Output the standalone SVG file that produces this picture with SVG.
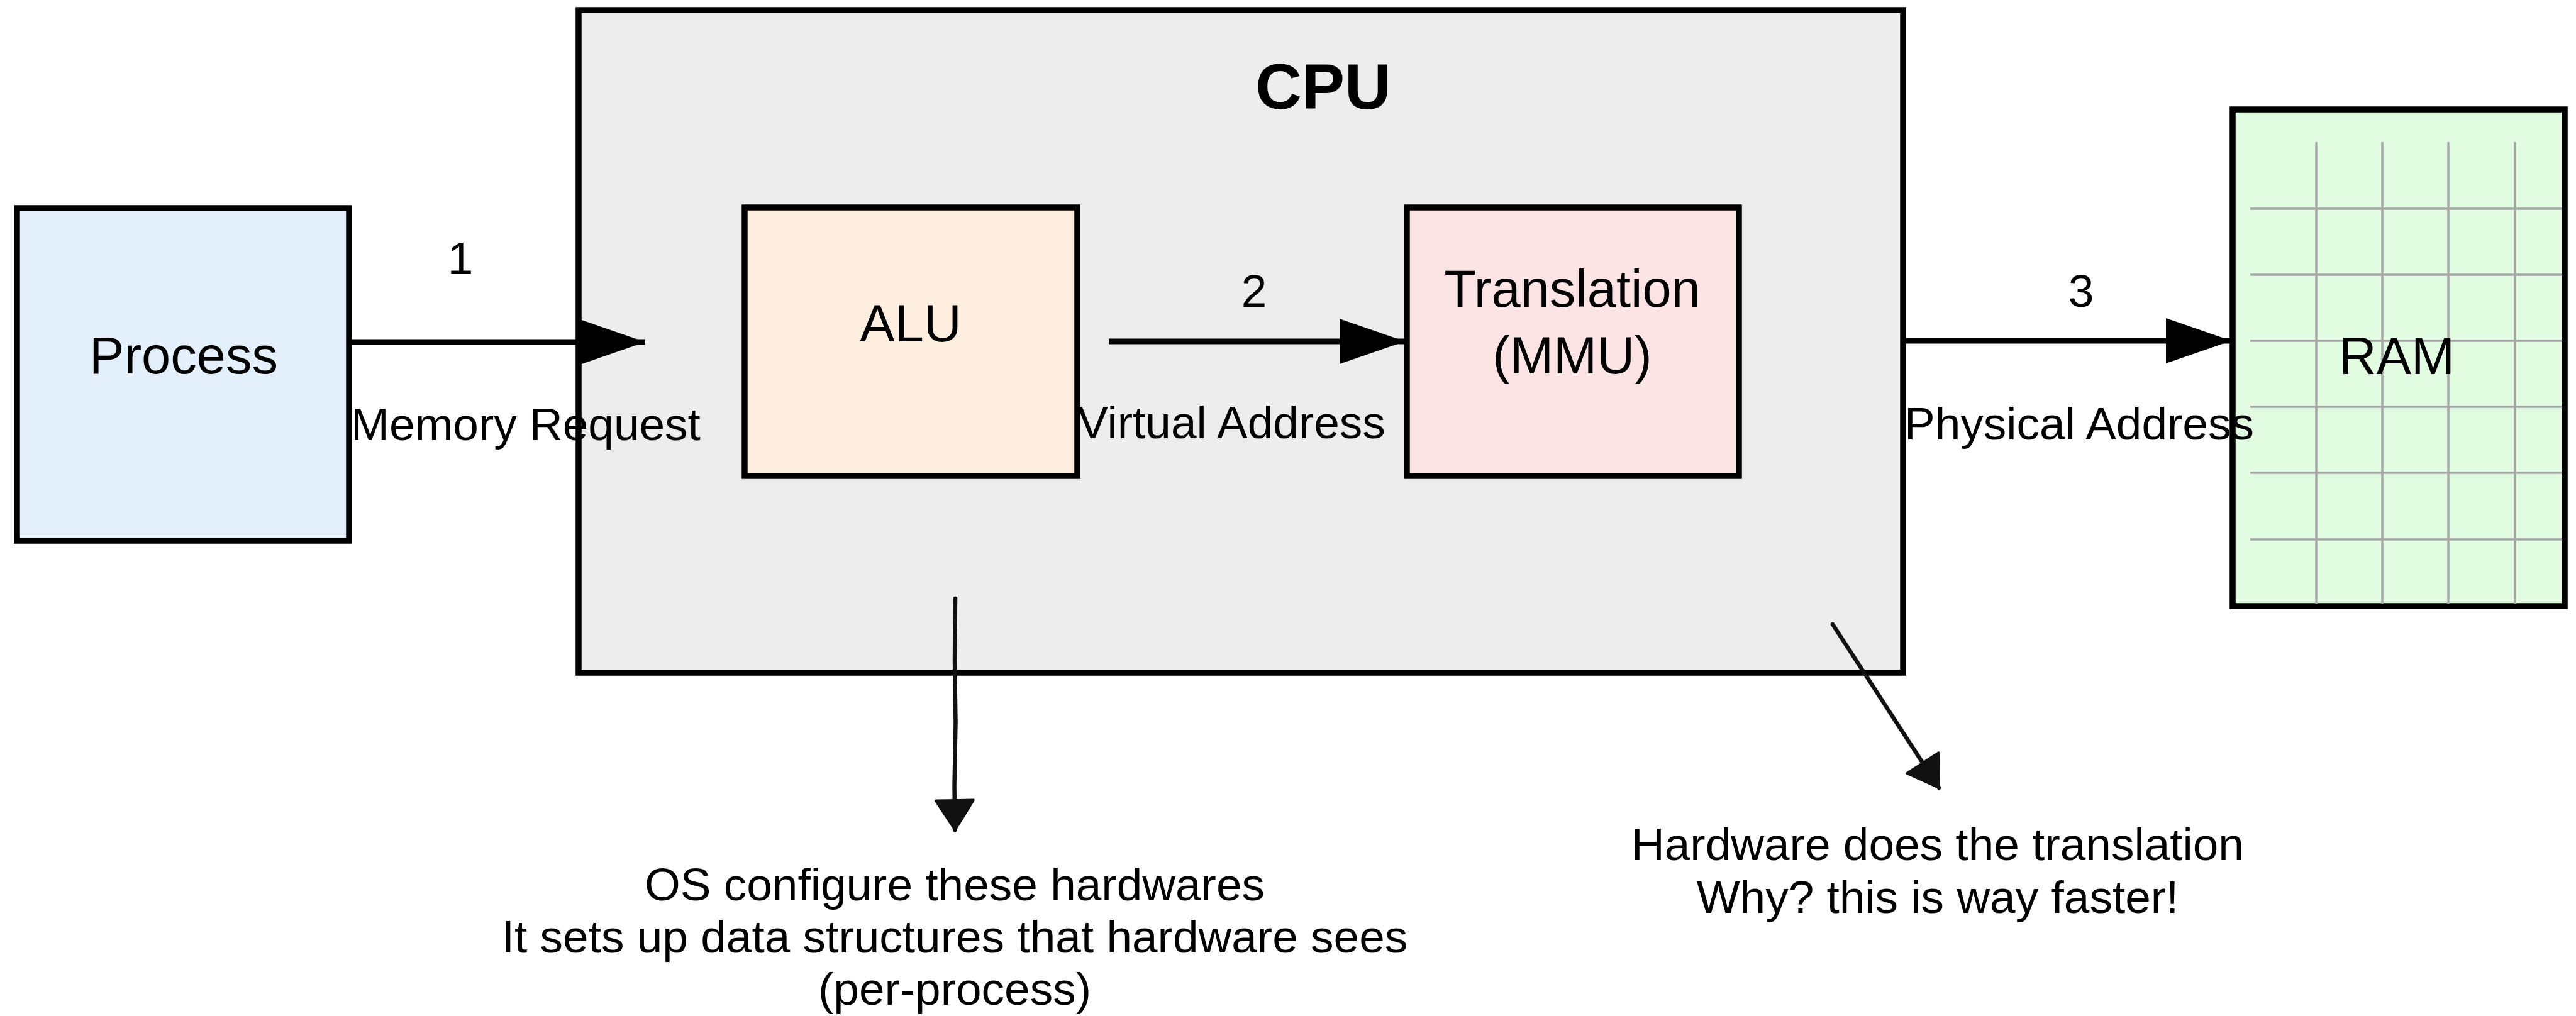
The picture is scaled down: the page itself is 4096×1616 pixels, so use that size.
<svg xmlns="http://www.w3.org/2000/svg" width="4096" height="1616" viewBox="0 0 4096 1616">
  <style>
    text { font-family: "Liberation Sans", Arial, Helvetica, sans-serif; fill: #000; text-anchor: middle; }
    .node { stroke: #000; stroke-width: 9.5; }
    .nodetxt { font-size: 83px; }
    .lbl { font-size: 73px; }
    .conn { stroke: #000; stroke-width: 9; fill: none; }
    .sketch { stroke: #111; stroke-width: 6.5; fill: none; stroke-linecap: round; }
    .grid { stroke: #a6a6a6; stroke-width: 3.5; }
  </style>
  <defs>
    <marker id="head" markerUnits="userSpaceOnUse" markerWidth="106" markerHeight="72" refX="104" refY="36" orient="auto">
      <path d="M0,0 L104,36 L0,72 Z" fill="#000"/>
    </marker>
    <marker id="sketchhead" markerUnits="userSpaceOnUse" markerWidth="56" markerHeight="66" refX="50" refY="33" orient="auto">
      <path d="M3,3 L50,33 L3,63 Z" fill="#111" stroke="#111" stroke-width="4" stroke-linejoin="round"/>
    </marker>
  </defs>

  <rect width="4096" height="1616" fill="#fff"/>

  <g id="process">
    <rect class="node" x="27" y="331" width="528" height="529" fill="#e3effa"/>
    <text class="nodetxt" x="292" y="594">Process</text>
  </g>

  <g id="cpu">
    <rect class="node" x="920" y="16" width="2106" height="1054" fill="#ededed"/>
    <text x="2104" y="173" font-size="102" font-weight="bold">CPU</text>
  </g>

  <g id="alu">
    <rect class="node" x="1184" y="330" width="529" height="427" fill="#fdeee0"/>
    <text class="nodetxt" x="1448" y="543">ALU</text>
  </g>

  <g id="translation">
    <rect class="node" x="2237" y="330" width="528" height="427" fill="#fce4e5"/>
    <text class="nodetxt" x="2500" y="488">Translation</text>
    <text class="nodetxt" x="2500" y="594">(MMU)</text>
  </g>

  <g id="ram">
    <rect class="node" x="3550" y="174" width="528" height="790" fill="#e1fce1"/>
    <g class="grid">
      <line x1="3683" y1="226" x2="3683" y2="960"/>
      <line x1="3788" y1="226" x2="3788" y2="960"/>
      <line x1="3893" y1="226" x2="3893" y2="960"/>
      <line x1="3999" y1="226" x2="3999" y2="960"/>
      <line x1="3578" y1="332" x2="4074" y2="332"/>
      <line x1="3578" y1="437" x2="4074" y2="437"/>
      <line x1="3578" y1="542" x2="4074" y2="542"/>
      <line x1="3578" y1="647" x2="4074" y2="647"/>
      <line x1="3578" y1="752" x2="4074" y2="752"/>
      <line x1="3578" y1="858" x2="4074" y2="858"/>
    </g>
    <text class="nodetxt" x="3811" y="595">RAM</text>
  </g>

  <g id="connectors">
    <g id="edge-1">
      <line class="conn" x1="555" y1="544" x2="1026" y2="544" marker-end="url(#head)"/>
      <text class="lbl" x="732" y="436">1</text>
      <text class="lbl" x="836" y="700">Memory Request</text>
    </g>
    <g id="edge-2">
      <line class="conn" x1="1763" y1="543" x2="2234" y2="543" marker-end="url(#head)"/>
      <text class="lbl" x="1994" y="488">2</text>
      <text class="lbl" x="1958" y="697">Virtual Address</text>
    </g>
    <g id="edge-3">
      <line class="conn" x1="3026" y1="542" x2="3548" y2="542" marker-end="url(#head)"/>
      <text class="lbl" x="3309" y="488">3</text>
      <text class="lbl" x="3306" y="699">Physical Address</text>
    </g>
    <g id="sketch-os">
      <path class="sketch" d="M1519,952 L1518,1050 L1519.5,1150 L1517.5,1250 L1518.5,1320" marker-end="url(#sketchhead)"/>
    </g>
    <g id="sketch-hw">
      <path class="sketch" d="M2914,993 L2970,1079 L3027,1167 L3083,1253" marker-end="url(#sketchhead)"/>
    </g>
  </g>

  <g id="note-os">
    <text class="lbl" x="1518" y="1432">OS configure these hardwares</text>
    <text class="lbl" x="1518" y="1515">It sets up data structures that hardware sees</text>
    <text class="lbl" x="1518" y="1598">(per-process)</text>
  </g>

  <g id="note-hw">
    <text class="lbl" x="3081" y="1368">Hardware does the translation</text>
    <text class="lbl" x="3081" y="1452">Why? this is way faster!</text>
  </g>
</svg>
